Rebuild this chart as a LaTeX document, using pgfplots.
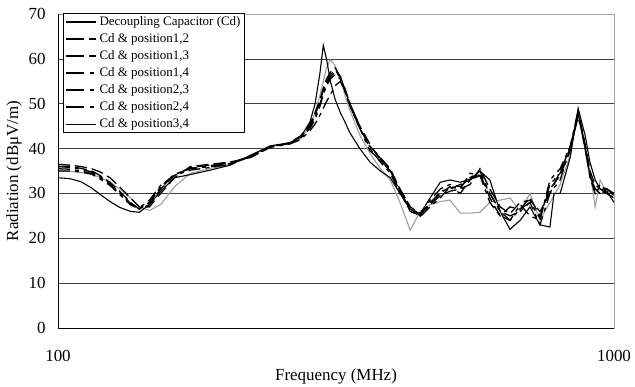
\documentclass[border=0pt]{standalone}
\usepackage{pgfplots}
\pgfplotsset{compat=1.18}
\usepackage{pgfplotstable}
\usepackage{fontspec}
\setmainfont{Liberation Serif}

\pgfplotstableread{
f v
100 33.5
105 33.3
110 32.6
115 31.2
119 29.8
124 28.2
129 26.9
135 26.0
140 25.8
146 27.5
153 30.5
162 33.5
173 34.2
188 35.2
204 36.3
222 38.5
241 40.6
261 41.3
273 42.5
284 46
290 50
296 57
300 63
304 60
309 55
315 51
322 48
328 46
335 43.5
349 40
364 37
380 35
396 33.5
412 30
430 26.5
448 25.5
467 29
487 32.5
507 33
529 32.5
551 33.2
574 35
598 33
624 26
650 22
678 24
706 27
736 23
767 22.5
780 30
800 30
834 38
862 49
887 43
905 37
925 33
944 31
971 30.5
1000 28
}\sA

\pgfplotstableread{
f v
100 36.5
105 36.3
110 36.0
115 35.5
119 34.8
124 33.5
129 31.5
135 29
140 27
146 27
153 30
162 33.5
173 36
188 36.5
204 37
222 38
241 40.3
261 41.3
273 42.8
284 45.5
290 48
296 51
300 53.5
304 55.5
309 57
315 58
322 56
328 53
335 49.5
349 44.5
364 40.5
380 38
396 35.5
412 31
430 27
448 25.5
467 27.5
487 29.5
507 30.5
529 31
551 32
574 35.5
598 31
624 27
650 25.5
678 28
706 28.5
736 26
767 30
800 35
834 40
862 48
887 41
905 35
925 32
944 31
971 30
1000 30
}\sB

\pgfplotstableread{
f v
100 36
105 36
110 35.6
115 35
119 34
124 32.5
129 30.5
135 28
140 26.5
146 27.5
153 31
162 34
173 35.8
188 36.3
204 36.8
222 38.2
241 40.4
261 41.2
273 42.6
284 45
290 47.5
296 50.5
300 53
304 55
309 56.5
315 57.5
322 56
328 53.5
335 50
349 45
364 41
380 37.5
396 35
412 30.5
430 26
448 25
467 28
487 30
507 31.5
529 30
551 33
574 34.5
598 29
624 25
650 27
678 26.5
706 29
736 25
767 31
800 34
834 39.5
862 48
887 40
905 34
925 31
944 30
971 31
1000 29.5
}\sC

\pgfplotstableread{
f v
100 35.5
105 35.4
110 35
115 34.5
119 33.5
124 32
129 30
135 27.5
140 26.5
146 28
153 31.5
162 34.3
173 35.5
188 36
204 36.6
222 38.3
241 40.5
261 41.2
273 42.3
284 44.5
290 46.5
296 49.5
300 52
304 54
309 55.5
315 56.5
322 55.5
328 53
335 50
349 45
364 40
380 37
396 34.5
412 30
430 26.5
448 24.8
467 27
487 29
507 31.5
529 31
551 34.5
574 34
598 28
624 25
650 24
678 27.5
706 25
736 24
767 33
800 35.5
834 40.5
862 47.5
887 40.5
905 33.5
925 30
944 32
971 30
1000 29
}\sD

\pgfplotstableread{
f v
100 35
105 35
110 34.8
115 34.3
119 33.2
124 31.8
129 29.8
135 27.5
140 26.8
146 28.5
153 31.8
162 34
173 35.2
188 35.8
204 36.5
222 38.2
241 40.3
261 41
273 42
284 44
290 45.5
296 47.5
300 49
304 50.5
309 52
315 54
322 55
328 53
335 50
349 44.5
364 39.5
380 37.5
396 35
412 31
430 27
448 25
467 27.5
487 30.5
507 31
529 32
551 33
574 34
598 30
624 26
650 25
678 26
706 28
736 23
767 30
800 33
834 40
862 47
887 41
905 35
925 30
944 31.5
971 31
1000 30
}\sE

\pgfplotstableread{
f v
100 36
105 35.8
110 35.4
115 34.8
119 33.8
124 32.2
129 30.2
135 27.8
140 26.6
146 28
153 31.2
162 34.2
173 35.6
188 36.2
204 36.7
222 38.3
241 40.4
261 41.2
273 42.5
284 45
290 47
296 50
300 52.5
304 54.5
309 56
315 57
322 56
328 53
335 49.5
349 44.5
364 40.5
380 37.8
396 35.2
412 30.5
430 26.5
448 25
467 28.5
487 31
507 32
529 31.5
551 33.5
574 35
598 30
624 26
650 24
678 26.5
706 28
736 24.5
767 32
800 34.5
834 40.5
862 48.5
887 40
905 34
925 31
944 30.5
971 30
1000 29
}\sF

\pgfplotstableread{
f v
100 35
105 34.9
110 34.7
115 34.2
119 33.6
124 32.5
129 31
135 29
140 27
146 26.2
153 27.5
162 31.5
173 34.5
188 35.6
204 36.4
222 38.6
241 40.6
261 41
273 42.2
284 45
290 48
296 52
300 55
304 58
309 59.8
315 58.5
322 55.5
328 52
335 48.5
349 43
364 39
380 35.5
396 33
412 28
430 21.8
448 26
467 27.5
487 28.2
507 28.5
529 25.6
551 25.6
574 25.8
598 28
624 28.5
650 29
678 26
706 30
736 24
767 28
800 32
834 38.5
862 48.6
887 41
905 35
925 27
944 33
971 30
1000 29
}\sG

\begin{document}
\begin{tikzpicture}
\useasboundingbox (-58bp,-59bp) rectangle (577bp,328bp);
\begin{axis}[
  at={(0bp,0bp)}, anchor=south west,
  scale only axis,
  width=556bp, height=314bp,
  xmode=log,
  xmin=100, xmax=1000,
  ymin=0, ymax=70,
  xtick={100,1000},
  xticklabels={100,1000},
  ytick={0,10,20,30,40,50,60,70},
  minor xtick={},
  major tick length=0pt,
  minor tick length=0pt,
  ymajorgrids,
  grid style={black!75, line width=0.7bp},
  axis line style={gray!70, line width=0.8bp},
  /pgf/number format/assume math mode=true,
  tick label style={font=\fontsize{17}{20}\selectfont},
  xticklabel style={yshift=-19bp},
  yticklabel style={xshift=-9bp},
  label style={font=\fontsize{17}{20}\selectfont},
  xlabel={Frequency (MHz)},
  ylabel={Radiation (dBμV/m)},
  legend cell align=left,
  legend image code/.code={\draw[#1] (0bp,0bp) -- (30bp,0bp);},
  legend style={at={(rel axis cs:0.009,1.003)}, anchor=north west,
    draw=black, line width=0.6bp, fill=white,
    font=\fontsize{13}{15}\selectfont, row sep=2.5bp,
    inner xsep=2bp, inner ysep=1.5bp},
]
\addplot[gray!75, line width=1.1bp, forget plot] table[x=f,y=v] {\sG};
\addplot[black, line width=1.1bp, legend image post style={line width=1.6bp}] table[x=f,y=v] {\sA};
\addlegendentry{Decoupling Capacitor (Cd)}
\addplot[black, line width=1.3bp, dash pattern=on 12bp off 5bp, legend image post style={line width=2.2bp, dash pattern=on 18bp off 5bp}] table[x=f,y=v] {\sB};
\addlegendentry{Cd \& position1,2}
\addplot[black, line width=1.3bp, dash pattern=on 12bp off 5bp, legend image post style={line width=2.2bp, dash pattern=on 18bp off 5bp}] table[x=f,y=v] {\sC};
\addlegendentry{Cd \& position1,3}
\addplot[black, line width=1.3bp, dash pattern=on 12bp off 5bp on 4bp off 5bp, legend image post style={line width=2.2bp, dash pattern=on 18bp off 6bp on 4bp off 6bp}] table[x=f,y=v] {\sD};
\addlegendentry{Cd \& position1,4}
\addplot[black, line width=1.3bp, dash pattern=on 12bp off 5bp on 4bp off 5bp, legend image post style={line width=2.2bp, dash pattern=on 18bp off 6bp on 4bp off 6bp}] table[x=f,y=v] {\sE};
\addlegendentry{Cd \& position2,3}
\addplot[black, line width=1.3bp, dash pattern=on 12bp off 5bp on 4bp off 5bp, legend image post style={line width=2.2bp, dash pattern=on 18bp off 6bp on 4bp off 6bp}] table[x=f,y=v] {\sF};
\addlegendentry{Cd \& position2,4}
\addlegendimage{black, line width=0.7bp}
\addlegendentry{Cd \& position3,4}
\draw[black, line width=1bp] (rel axis cs:0,1) -- (rel axis cs:0,0) -- (rel axis cs:1,0);
\end{axis}
\end{tikzpicture}
\end{document}
